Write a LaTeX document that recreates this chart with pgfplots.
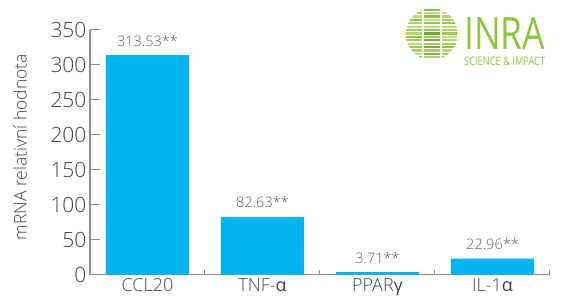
\documentclass[border=0pt]{standalone}
\usepackage{fontspec}
\IfFontExistsTF{Open Sans Light}{\setmainfont{Open Sans Light}[BoldFont=Open Sans]}{\setmainfont{Open Sans}}
\usepackage{pgfplots}
\pgfplotsset{compat=1.18}
\definecolor{barblue}{HTML}{00B5EF}
\definecolor{axgray}{HTML}{8C8C8C}
\definecolor{txtgray}{HTML}{444444}
\definecolor{valgray}{HTML}{5E5E5E}
\definecolor{inragreen}{HTML}{8DC63F}
\definecolor{inradark}{HTML}{6FA82E}
\definecolor{inralight}{HTML}{C4E08F}
\begin{document}
\begin{tikzpicture}
\begin{axis}[
  scale only axis,
  width=460pt, height=245pt,
  at={(0,0)}, anchor=south west,
  xmin=-0.5, xmax=3.5, ymin=0, ymax=350,
  axis x line*=bottom, axis y line*=left,
  axis line style={axgray, line width=1.5pt},
  xtick={0,1,2,3},
  xticklabels={CCL20, TNF-\textbf{α}, PPAR\textbf{γ}, IL-1\textbf{α}},
  minor xtick={0.5,1.5,2.5,3.5},
  ytick={0,50,...,350},
  tick align=inside,
  x tick style={draw=none},
  minor x tick style={draw=axgray, line width=1pt},
  minor tick length=5pt,
  y tick style={axgray, line width=1.5pt},
  major tick length=10pt,
  /pgf/number format/assume math mode=true,
  yticklabel style={font=\fontsize{21}{25}\selectfont, text=txtgray},
  xticklabel style={font=\fontsize{18}{22}\selectfont, text=txtgray},
  ylabel={mRNA relativní hodnota},
  ylabel style={at={(axis description cs:-0.152,0.52)}, anchor=center, font=\fontsize{17.5}{20}\selectfont, text=txtgray},
  nodes near coords,
  point meta=explicit symbolic,
  every node near coord/.append style={font=\fontsize{14.5}{17}\selectfont, text=valgray, inner sep=0pt, yshift=9pt, anchor=base},
  clip=false,
]
\addplot[ybar, bar width=83pt, fill=barblue, draw=none] coordinates {
  (0,313.53) [313.53**]
  (1,82.63) [82.63**]
  (2,3.71) [3.71**]
  (3,22.96) [22.96**]
};
\end{axis}
% INRA logo (decoration)
\begin{scope}
\clip (341.7pt,240.6pt) circle (26pt);
\foreach \y [count=\i] in {214,217.4,220.8,224.2,227.6,231,234.4,237.8,241.2,244.6,248,251.4,254.8,258.2,261.6,265,268.4} {
  \pgfmathsetmacro{\sa}{mod(\i*37,100)}
  \pgfmathsetmacro{\sb}{mod(\i*53+20,100)}
  \pgfmathsetmacro{\sc}{mod(\i*71+40,100)}
  \draw[line width=2.2pt, inragreen!\sa!inralight] (314pt,\y pt) -- (332pt,\y pt);
  \draw[line width=2.2pt, inradark!\sb!inralight] (334pt,\y pt) -- (350pt,\y pt);
  \draw[line width=2.2pt, inragreen!\sc!inralight] (352pt,\y pt) -- (370pt,\y pt);
}
\end{scope}
\node[anchor=south west, inner sep=0pt, text=inragreen] at (374pt,225.3pt) {\resizebox{81pt}{32pt}{\textbf{INRA}}};
\node[anchor=south west, inner sep=0pt, text=inragreen] at (374pt,209.3pt) {\resizebox{81pt}{8.5pt}{\textbf{SCIENCE \& IMPACT}}};
\pgfresetboundingbox
\path (-90pt,-29.7pt) rectangle (473pt,274.7pt);
\end{tikzpicture}
\end{document}
